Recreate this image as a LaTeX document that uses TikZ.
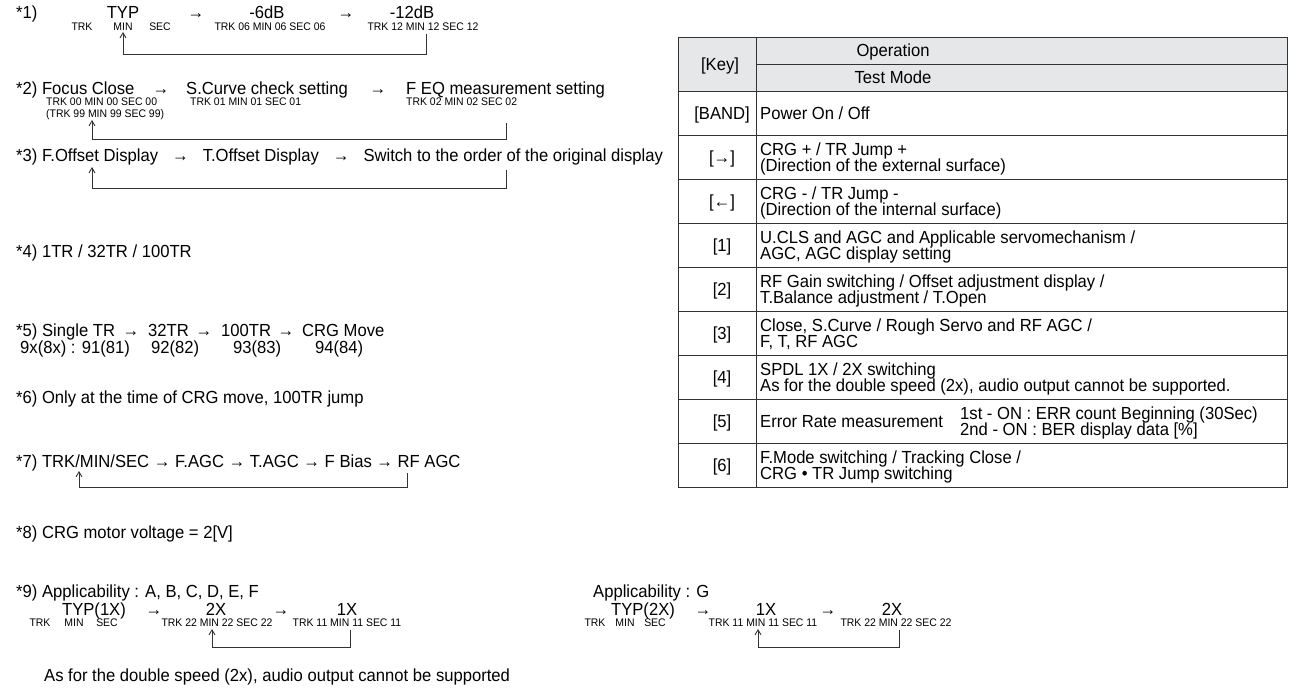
\documentclass[tikz,border=0pt]{standalone}
\usepackage{fontspec}
\setmainfont{Liberation Sans}[FakeStretch=0.95]
\usetikzlibrary{arrows.meta}
\definecolor{hdr}{HTML}{E6E7E9}
\definecolor{ln}{HTML}{333333}
\tikzset{
 mt/.style={anchor=base west, inner sep=0pt, font=\fontsize{17.5}{19}\selectfont},
 mc/.style={anchor=base, inner sep=0pt, font=\fontsize{17.5}{19}\selectfont},
 st/.style={anchor=base west, inner sep=0pt, font=\fontsize{11}{12}\selectfont},
 sc/.style={anchor=base, inner sep=0pt, font=\fontsize{11}{12}\selectfont},
 tt/.style={anchor=base west, inner sep=0pt, font=\fontsize{17.5}{19}\selectfont},
 tc/.style={anchor=base, inner sep=0pt, font=\fontsize{17.5}{19}\selectfont},
 back/.style={draw=ln, line width=0.9pt, -{Straight Barb[length=5pt,width=6pt]}},
 gridline/.style={draw=ln, line width=1pt},
}
\newcommand{\asp}{\hspace{14pt}}
\begin{document}
\begin{tikzpicture}[x=1pt,y=-1pt]
\useasboundingbox (0,0) rectangle (1302,697);
% ---- *1)
\node[mt] (n1) at (16,18) {*1)};
\node[mc] (typ1) at (123,18) {TYP};
\node[sc] (trk1) at (82,30) {TRK};
\node[sc] (min1) at (123,30) {MIN};
\node[sc] (sec1) at (160,30) {SEC};
\node[mc] (ar1a) at (196,18) {→};
\node[mc] (db6) at (267,18) {-6dB};
\node[sc] (s06) at (270,30) {TRK 06 MIN 06 SEC 06};
\node[mc] (ar1b) at (346,18) {→};
\node[mc] (db12) at (412,18) {-12dB};
\node[sc] (s12) at (423,30) {TRK 12 MIN 12 SEC 12};
\coordinate (r1) at (426,34); \coordinate (a1) at (123,32);
\draw[back] (r1) -- ++(0,20) -| (a1);
% ---- *2)
\node[mt] (n2) at (16,94) {*2) Focus Close};
\node[mc] (ar2a) at (161,94) {→};
\node[mt] (scurve) at (186,94) {S.Curve check setting};
\node[mc] (ar2b) at (378,94) {→};
\node[mt] (feq) at (406,94) {F EQ measurement setting};
\node[st] (s00) at (46,105) {TRK 00 MIN 00 SEC 00};
\node[st] (s99) at (46,117) {(TRK 99 MIN 99 SEC 99)};
\node[st] (s01) at (190,105) {TRK 01 MIN 01 SEC 01};
\node[st] (s02) at (406,105) {TRK 02 MIN 02 SEC 02};
\coordinate (r2) at (506,123); \coordinate (a2) at (92,120);
\draw[back] (r2) -- ++(0,16) -| (a2);
% ---- *3)
\node[mt] (n3) at (16,161) {*3) F.Offset Display\asp→\asp T.Offset Display\asp→\asp Switch to the order of the original display};
\coordinate (r3) at (506,170); \coordinate (a3) at (92,167);
\draw[back] (r3) -- ++(0,18) -| (a3);
% ---- *4) - *6)
\node[mt] (n4) at (16,257) {*4) 1TR / 32TR / 100TR};
\node[mt] (n5) at (16,336) {*5) Single TR};
\node[mc] (ar5a) at (131,336) {→};
\node[mt] (tr32) at (148,336) {32TR};
\node[mc] (ar5b) at (204,336) {→};
\node[mt] (tr100) at (221,336) {100TR};
\node[mc] (ar5c) at (286,336) {→};
\node[mt] (crgm) at (302,336) {CRG Move};
\node[mt] (c91) at (20,353) {9x(8x) : 91(81)};
\node[mt] (c92) at (151,353) {92(82)};
\node[mt] (c93) at (233,353) {93(83)};
\node[mt] (c94) at (315,353) {94(84)};
\node[mt] (n6) at (16,403) {*6) Only at the time of CRG move, 100TR jump};
% ---- *7)
\node[mt] (n7) at (16,467) {*7) TRK/MIN/SEC → F.AGC → T.AGC → F Bias → RF AGC};
\coordinate (r7) at (407,473); \coordinate (a7) at (79,471);
\draw[back] (r7) -- ++(0,14) -| (a7);
% ---- *8)
\node[mt] (n8) at (16,538) {*8) CRG motor voltage = 2[V]};
% ---- *9)
\node[mt] (n9) at (16,597) {*9) Applicability : A, B, C, D, E, F};
\node[mc] (typ9) at (94,615) {TYP(1X)};
\node[sc] (trk9) at (40,626) {TRK};
\node[sc] (min9) at (74,626) {MIN};
\node[sc] (sec9) at (107,626) {SEC};
\node[mc] (ar9a) at (154,615) {→};
\node[mc] (x2a) at (216,615) {2X};
\node[sc] (s22a) at (217,626) {TRK 22 MIN 22 SEC 22};
\node[mc] (ar9b) at (281,615) {→};
\node[mc] (x1a) at (347,615) {1X};
\node[sc] (s11a) at (347,626) {TRK 11 MIN 11 SEC 11};
\coordinate (r9) at (350,630); \coordinate (a9) at (212,629);
\draw[back] (r9) -- ++(0,17) -| (a9);
\node[mt] (note9) at (44,681) {As for the double speed (2x), audio output cannot be supported};
% right part
\node[mt] (ng) at (593,597) {Applicability : G};
\node[mc] (typg) at (643,615) {TYP(2X)};
\node[sc] (trkg) at (595,626) {TRK};
\node[sc] (ming) at (625,626) {MIN};
\node[sc] (secg) at (655,626) {SEC};
\node[mc] (argA) at (703,615) {→};
\node[mc] (x1g) at (766,615) {1X};
\node[sc] (s11g) at (763,626) {TRK 11 MIN 11 SEC 11};
\node[mc] (argB) at (828,615) {→};
\node[mc] (x2g) at (892,615) {2X};
\node[sc] (s22g) at (896,626) {TRK 22 MIN 22 SEC 22};
\coordinate (rg) at (899,630); \coordinate (ag) at (758,629);
\draw[back] (rg) -- ++(0,17) -| (ag);
% ---- table
\fill[hdr] (678,37) rectangle (1287,91);
\draw[gridline] (678,37) rectangle (1287,487);
\draw[gridline] (756,37) -- (756,487);
\draw[gridline] (756,64) -- (1287,64);
\foreach \yy in {91,135,179,223,267,311,355,399,443}
  \draw[gridline] (678,\yy) -- (1287,\yy);
\node[tc] (hkey) at (720,70) {[Key]};
\node[tc] (hop) at (893,56.5) {Operation};
\node[tc] (htm) at (893,83.5) {Test Mode};
\node[tc] (kband) at (722,119) {[BAND]};
\node[tt] (dband) at (760,119) {Power On / Off};
\node[tc] (kr) at (722,163) {[→]};
\node[tt] (dr1) at (760,155) {CRG + / TR Jump +};
\node[tt] (dr2) at (760,171) {(Direction of the external surface)};
\node[tc] (kl) at (722,207) {[←]};
\node[tt] (dl1) at (760,199) {CRG - / TR Jump -};
\node[tt] (dl2) at (760,215) {(Direction of the internal surface)};
\node[tc] (k1) at (722,251) {[1]};
\node[tt] (d11) at (760,243) {U.CLS and AGC and Applicable servomechanism /};
\node[tt] (d12) at (760,259) {AGC, AGC display setting};
\node[tc] (k2) at (722,295) {[2]};
\node[tt] (d21) at (760,287) {RF Gain switching / Offset adjustment display /};
\node[tt] (d22) at (760,303) {T.Balance adjustment / T.Open};
\node[tc] (k3) at (722,339) {[3]};
\node[tt] (d31) at (760,331) {Close, S.Curve / Rough Servo and RF AGC /};
\node[tt] (d32) at (760,347) {F, T, RF AGC};
\node[tc] (k4) at (722,383) {[4]};
\node[tt] (d41) at (760,375) {SPDL 1X / 2X switching};
\node[tt] (d42) at (760,391) {As for the double speed (2x), audio output cannot be supported.};
\node[tc] (k5) at (722,427) {[5]};
\node[tt] (d5) at (760,427) {Error Rate measurement};
\node[tt] (d51) at (960,419) {1st - ON : ERR count Beginning (30Sec)};
\node[tt] (d52) at (960,435) {2nd - ON : BER display data [\%]};
\node[tc] (k6) at (722,471) {[6]};
\node[tt] (d61) at (760,463) {F.Mode switching / Tracking Close /};
\node[tt] (d62) at (760,479) {CRG • TR Jump switching};
\end{tikzpicture}
\end{document}
